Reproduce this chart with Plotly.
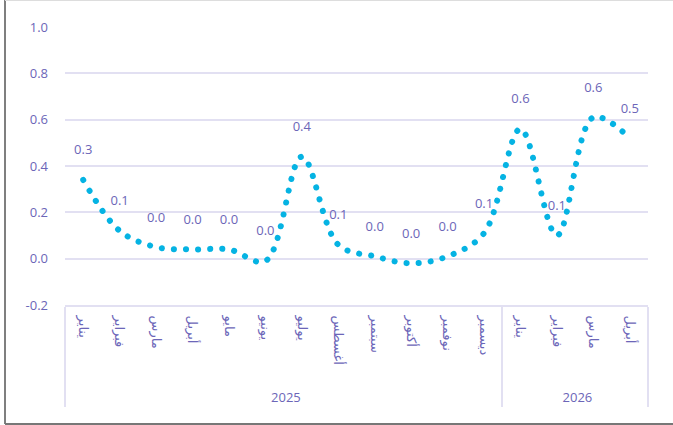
import plotly.graph_objects as go

months = ["يناير", "فبراير", "مارس", "أبريل", "مايو", "يونيو", "يوليو", "أغسطس",
          "سبتمبر", "أكتوبر", "نوفمبر", "ديسمبر", "يناير", "فبراير", "مارس", "أبريل"]
years = ["2025"] * 12 + ["2026"] * 4
values = [0.34, 0.12, 0.05, 0.04, 0.04, -0.01, 0.44, 0.06,
          0.01, -0.02, 0.01, 0.11, 0.56, 0.10, 0.61, 0.52]
labels = ["0.3", "0.1", "0.0", "0.0", "0.0", "0.0", "0.4", "0.1",
          "0.0", "0.0", "0.0", "0.1", "0.6", "0.1", "0.6", "0.5"]
y_ticks = [-0.2, 0.0, 0.2, 0.4, 0.6, 0.8, 1.0]
y_ticktext = ["-0.2", "0.0", "0.2", "0.4", "0.6", "0.8", "1.0"]

TXT = "#6c66b8"
GRID = "#e2e0f2"
DOT = "#05b3e3"
FONT = "Open Sans, Noto Sans, DejaVu Sans, sans-serif"

W, H = 673, 425
L, R, T, B = 65, 25, 27, 120
PW, PH = W - L - R, H - T - B


def px(x):
    return (x - L) / PW


def py(y):
    return (H - B - y) / PH


# trailing no-break spaces only lengthen the rotated label boxes so the
# year row sits lower, as in the reference
month_ticks = [m + "\u00a0" * 5 for m in months]

fig = go.Figure()
fig.add_trace(go.Scatter(
    x=[years, month_ticks], y=values,
    mode="lines+markers+text",
    line=dict(color=DOT, width=6, shape="spline", smoothing=1, dash="5px,7px"),
    marker=dict(size=34, color="rgba(0,0,0,0)"),
    text=labels, textposition="top center",
    textfont=dict(color=TXT, size=13, family=FONT),
    cliponaxis=False, hoverinfo="skip",
))

fig.update_layout(
    width=W, height=H,
    margin=dict(l=L, r=R, t=T, b=B, autoexpand=False),
    paper_bgcolor="white", plot_bgcolor="white",
    showlegend=False,
    font=dict(family=FONT, color=TXT, size=13),
    xaxis=dict(
        type="multicategory", tickangle=90, showgrid=False, automargin=False,
        range=[-0.5, len(months) - 0.5], autorange=False,
        showline=True, linecolor=GRID, linewidth=2,
        showdividers=True, dividercolor=GRID, dividerwidth=2,
        ticks="", ticklabelstandoff=6, tickfont=dict(color=TXT, size=13),
    ),
    yaxis=dict(
        range=[-0.2, 1.0], tickvals=y_ticks, ticktext=y_ticktext, automargin=False,
        showgrid=True, gridcolor=GRID, gridwidth=2,
        zeroline=False, showline=False, ticks="",
        ticklabelstandoff=16, tickfont=dict(color=TXT, size=13),
    ),
    shapes=[
        dict(type="line", xref="paper", yref="paper", x0=px(5), x1=px(5),
             y0=py(424), y1=py(0), line=dict(color="#555555", width=1.5)),
        dict(type="line", xref="paper", yref="paper", x0=px(5), x1=px(673),
             y0=py(424), y1=py(424), line=dict(color="#777777", width=2)),
        dict(type="line", xref="paper", yref="paper", x0=px(5), x1=px(673),
             y0=py(0.5), y1=py(0.5), line=dict(color="#dddddd", width=1)),
    ],
)

post = """
document.body.style.margin = '0';
var gd = document.getElementsByClassName('plotly-graph-div')[0];
gd.querySelectorAll('.scatterlayer .js-line').forEach(function(p){
  p.style.strokeLinecap = 'round';
  p.style.strokeDasharray = '0.1px,12px';
});
"""
fig.write_html("out.html", post_script=post, config={"displayModeBar": False})
